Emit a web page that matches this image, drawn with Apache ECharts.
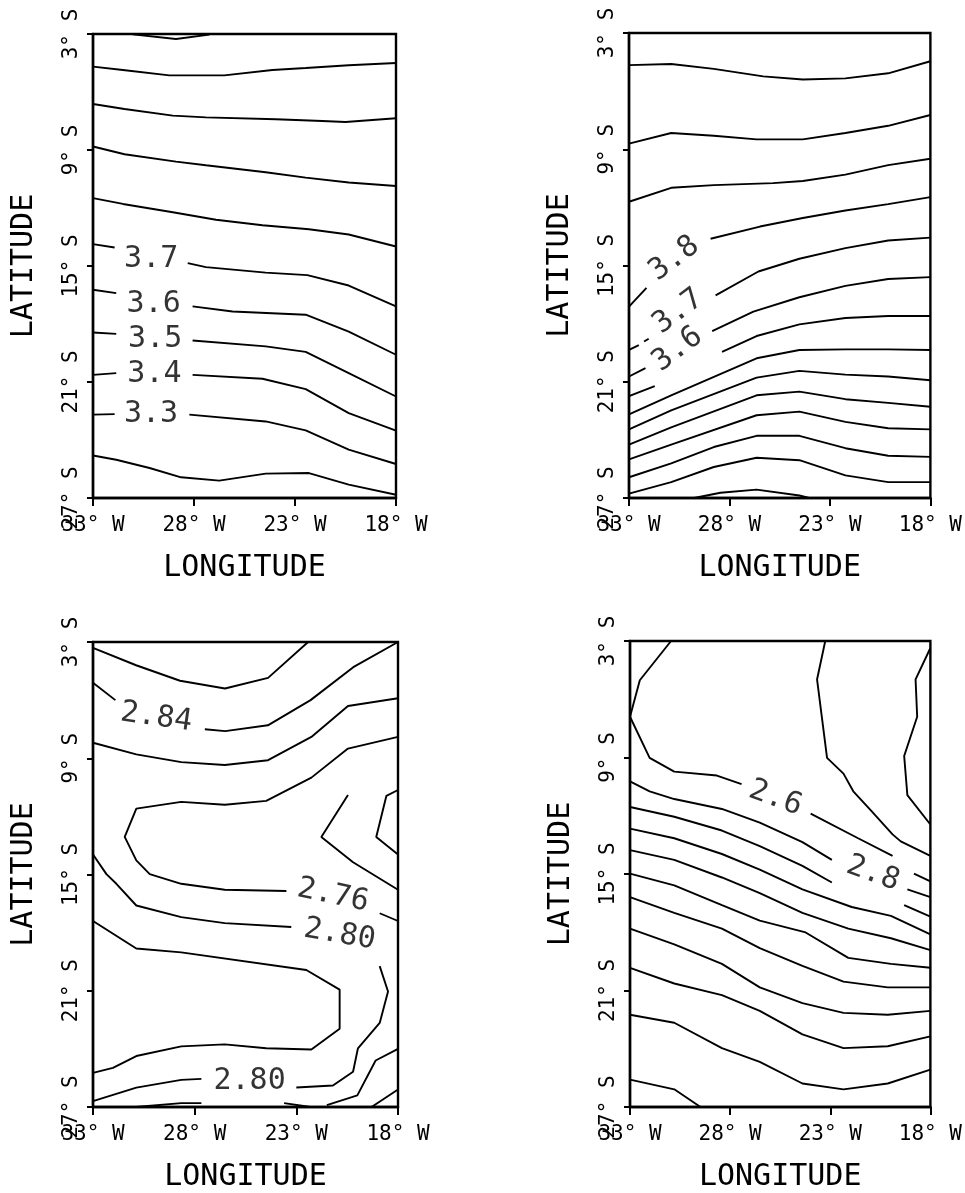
<!DOCTYPE html>
<html><head><meta charset="utf-8">
<script src="https://cdn.jsdelivr.net/npm/echarts@6/dist/echarts.min.js"></script>
<style>html,body{margin:0;padding:0;background:#fff}#c{width:965px;height:1193px}</style>
</head><body><div id="c"></div>
<script>
// ---- axis ticks ----
const lonTicks = [33, 28, 23, 18];
const latTicks = [3, 9, 15, 21, 27];

// ---- panel 1 contours (lon °W, lat °S); each contour = list of segments ----
const p1c1  = [[[31.03,3.02],[28.89,3.26],[27.24,3.03]]];
const p1c2  = [[[33,4.69],[31.52,4.86],[29.22,5.14],[26.50,5.14],[24.12,4.86],[22.47,4.76],[20.34,4.62],[18,4.50]]];
const p1c3  = [[[33,6.62],[31.44,6.88],[29.05,7.22],[27.41,7.31],[23.95,7.41],[21.65,7.50],[20.50,7.55],[18,7.36]]];
const p1c4  = [[[33,8.82],[31.44,9.22],[28.89,9.60],[27.41,9.79],[24.45,10.15],[22.47,10.43],[20.34,10.68],[18,10.86]]];
const p1c5  = [[[33,11.49],[31.52,11.79],[29.05,12.22],[26.91,12.61],[24.61,12.89],[22.31,13.10],[20.34,13.37],[18,13.99]]];
const p1c6  = [[[33,13.87],[31.93,14.04]],[[28.31,14.85],[27.41,15.06],[24.45,15.34],[22.39,15.47],[20.34,16.01],[18,17.09]]];
const p1c7  = [[[33,16.23],[31.85,16.40]],[[28.07,17.09],[26.09,17.35],[22.47,17.52],[20.34,18.39],[18,19.59]]];
const p1c8  = [[[33,18.44],[31.85,18.51]],[[28.07,18.85],[24.45,19.16],[22.47,19.44],[20.34,20.54],[18,21.75]]];
const p1c9  = [[[33,20.63],[31.85,20.54]],[[28.07,20.63],[24.61,20.83],[22.47,21.37],[20.34,22.61],[18,23.52]]];
const p1c10 = [[[33,22.69],[31.93,22.66]],[[28.23,22.69],[24.45,23.04],[22.47,23.50],[20.34,24.50],[18,25.24]]];
const p1c11 = [[[33,24.80],[31.85,25.02],[30.20,25.45],[28.64,25.93],[26.75,26.10],[24.45,25.74],[22.31,25.71],[20.34,26.31],[18,26.83]]];
const p1Labels = [['3.7',30.12,14.65],['3.6',30.0,16.96],['3.5',29.92,18.78],['3.4',29.96,20.61],['3.3',30.13,22.64]];

// ---- panel 2 ----
const p2c1  = [[[33,4.66],[30.90,4.60],[28.78,4.85],[26.32,5.24],[24.35,5.40],[22.23,5.34],[20.10,5.08],[18,4.46]]];
const p2c2  = [[[33,8.71],[30.90,8.16],[28.78,8.30],[26.65,8.49],[24.35,8.49],[22.23,8.16],[20.10,7.79],[18,7.23]]];
const p2c3  = [[[33,11.71],[30.90,10.99],[28.78,10.85],[25.83,10.75],[24.35,10.64],[22.23,10.31],[20.10,9.82],[18,9.49]]];
const p2c4  = [[[33,17.12],[32.13,16.15]],[[28.94,13.62],[26.48,12.99],[24.35,12.55],[22.23,12.16],[20.10,11.83],[18,11.47]]];
const p2c5  = [[[33,19.36],[32.51,19.11]],[[32.25,18.92],[32.02,18.78]],[[28.69,16.54],[26.56,15.31],[24.52,14.65],[22.23,14.10],[20.10,13.71],[18,13.56]]];
const p2c6  = [[[33,20.73],[32.18,20.30]],[[28.86,18.39],[26.81,17.38],[24.52,16.64],[22.23,16.05],[20.10,15.70],[18,15.60]]];
const p2c7  = [[[33,21.74],[31.72,21.22]],[[28.37,19.46],[26.65,18.64],[24.52,18.04],[22.23,17.71],[20.10,17.61],[18,17.61]]];
const p2c8  = [[[33,22.68],[30.90,21.70],[26.65,19.79],[24.52,19.36],[22.23,19.33],[20.10,19.33],[18,19.36]]];
const p2c9  = [[[33,23.46],[30.90,22.48],[26.65,20.79],[24.52,20.44],[22.23,20.63],[20.10,20.73],[18,20.92]]];
const p2c10 = [[[33,24.24],[30.90,23.36],[26.65,21.70],[24.52,21.51],[22.23,21.90],[20.10,22.09],[18,22.29]]];
const p2c11 = [[[33,25.01],[30.90,24.24],[26.65,22.73],[24.52,22.54],[22.23,23.07],[20.10,23.40],[18,23.46]]];
const p2c12 = [[[33,25.93],[30.90,25.21],[28.78,24.37],[26.65,23.79],[24.52,23.79],[22.23,24.43],[20.10,24.82],[18,24.88]]];
const p2c13 = [[[33,26.77],[30.90,26.18],[28.78,25.40],[26.65,24.92],[24.52,25.05],[22.23,25.83],[20.10,26.18],[18,26.18]]];
const p2c14 = [[[29.76,27],[28.45,26.73],[26.65,26.57],[24.52,26.87],[24.03,27]]];
const p2Labels = [['3.8',30.74,14.65],['3.7',30.55,17.38],['3.6',30.58,19.33]];

// ---- panel 3 ----
const p3c1 = [[[33,3.3],[30.88,4.2],[28.72,5.0],[26.51,5.4],[24.39,4.85],[22.42,3]]];
const p3c2 = [[[33,5.1],[31.9,6.0]],[[27.5,7.5],[26.5,7.6],[24.4,7.3],[22.3,6.0],[20.2,4.3],[18,3.0]]];
const p3c3 = [[[33,8.2],[30.87,8.8],[28.66,9.2],[26.52,9.35],[24.39,9.1],[22.26,7.9],[20.46,6.3],[18,5.9]]];
const p3c4 = [[[23.49,15.85],[26.52,15.79],[28.66,15.48],[30.21,14.98],[30.87,14.27],[31.44,13.06],[30.87,11.6],[28.66,11.25],[26.52,11.4],[24.48,11.2],[22.26,10.0],[20.46,8.5],[18,7.9]]];
const p3c5 = [[[18,10.64],[18.57,10.94],[19.07,13.06],[18,13.97]]];
const p3c6 = [[[20.46,10.90],[21.77,13.06],[20.21,14.37],[18,15.79]]];
const p3c7 = [[[18.9,17.0],[18,17.4]]];
const p3c8 = [[[33,13.97],[32.34,14.98],[31.85,15.48],[30.87,16.60],[28.66,17.20],[26.52,17.51],[23.25,17.71]],[[18.90,19.73],[18.49,21.04],[18.90,22.66],[19.97,23.97],[20.21,25.18],[21.20,25.89],[23.0,25.99]],[[27.67,25.55],[28.66,25.6],[30.87,26.0],[33,26.7]]];
const p3c9 = [[[33,17.40],[30.87,18.82],[28.66,19.02],[22.51,19.93],[20.87,20.94],[20.87,22.96],[22.26,24.03],[24.48,23.97],[26.52,23.77],[28.66,23.87],[30.87,24.37],[32.02,24.98],[33,25.24]]];
const p3c10 = [[[23.6,26.8],[22.3,27]]];
const p3c11 = [[[19.3,27],[18,26.1]]];
const p3c12 = [[[18,24.0],[19.1,24.6],[20.0,26.4],[21.5,26.9]]];
const p3c13 = [[[30.9,27],[28.66,26.8],[27.67,26.8]]];
const p3Labels = [['2.84',29.89,6.9],['2.76',21.20,16.09],['2.80',20.87,18.11],['2.80',25.30,25.65]];

// ---- panel 4 ----
const p4c1  = [[[23.25,3.0],[23.66,4.98],[23.16,9.02],[22.34,9.83],[21.85,10.74],[20.95,11.75],[19.89,12.96],[19.48,13.32],[18,14.07]]];
const p4c2  = [[[18,3.36],[18.74,4.98],[18.66,6.90],[19.31,8.92],[19.15,10.94],[18,12.45]]];
const p4c3  = [[[30.95,3],[32.51,5.02],[33,6.9],[32.02,9.02],[30.79,9.73],[28.66,9.93],[27.43,10.37]],[[23.98,11.89],[21.61,13.16],[19.89,14.07]],[[18.82,14.98],[18,15.38]]];
const p4c4  = [[[33,10.23],[32.02,10.74],[30.79,11.14],[28.41,11.65],[26.52,12.35],[24.39,13.36],[22.92,14.27]],[[19.15,15.79],[18,16.19]]];
const p4c5  = [[[33,11.55],[30.79,12.05],[28.41,12.76],[26.52,13.57],[24.39,14.58],[22.92,15.44]],[[19.31,16.60],[18,17.20]]];
const p4c6  = [[[33,12.66],[30.79,13.16],[28.41,13.97],[26.52,14.78],[24.39,15.79],[21.93,16.70],[19.97,17.16],[18,18.11]]];
const p4c7  = [[[33,13.77],[30.79,14.27],[28.41,15.18],[26.52,15.99],[24.39,17.0],[22.10,17.81],[19.97,18.31],[18,18.92]]];
const p4c8  = [[[33,14.98],[30.79,15.59],[28.41,16.60],[26.52,17.40],[24.23,18.01],[22.10,19.32],[19.97,19.63],[18,19.83]]];
const p4c9  = [[[33,16.19],[30.79,17.0],[28.41,17.81],[26.52,18.82],[24.39,19.73],[22.34,20.54],[20.13,20.84],[18,20.84]]];
const p4c10 = [[[33,17.81],[30.79,18.62],[28.41,19.63],[26.52,20.84],[24.39,21.65],[22.34,22.15],[20.13,22.25],[18,22.05]]];
const p4c11 = [[[33,19.83],[30.79,20.64],[28.41,21.24],[26.52,22.05],[24.39,23.26],[22.34,23.97],[20.13,23.87],[18,23.36]]];
const p4c12 = [[[33,22.25],[30.79,22.66],[28.41,23.97],[26.52,24.68],[24.39,25.79],[22.34,26.09],[20.13,25.79],[18,25.08]]];
const p4c13 = [[[33,25.59],[30.79,26.09],[29.48,27]]];
const p4Labels = [['2.6',25.74,11.10],['2.8',20.87,14.98]];

// ---- build ----
const FONT = 'DejaVu Sans Mono';
const panels = [
  {grid:{left:93,top:34,width:303,height:464}, contours:[p1c1,p1c2,p1c3,p1c4,p1c5,p1c6,p1c7,p1c8,p1c9,p1c10,p1c11], labels:p1Labels, rot:[0,0,0,0,0]},
  {grid:{left:629,top:33,width:303,height:465}, contours:[p2c1,p2c2,p2c3,p2c4,p2c5,p2c6,p2c7,p2c8,p2c9,p2c10,p2c11,p2c12,p2c13,p2c14], labels:p2Labels, rot:[37,37,37]},
  {grid:{left:93,top:642,width:305,height:465}, contours:[p3c1,p3c2,p3c3,p3c4,p3c5,p3c6,p3c7,p3c8,p3c9,p3c10,p3c11,p3c12,p3c13], labels:p3Labels, rot:[-8,-12,-10,0]},
  {grid:{left:630,top:641,width:302,height:466}, contours:[p4c1,p4c2,p4c3,p4c4,p4c5,p4c6,p4c7,p4c8,p4c9,p4c10,p4c11,p4c12,p4c13], labels:p4Labels, rot:[-20,-20]}
];

const grid=[], xAxis=[], yAxis=[], series=[];
panels.forEach((p,i)=>{
  grid.push(Object.assign({show:true, borderColor:'#000', borderWidth:2.4, backgroundColor:'transparent'}, p.grid));
  xAxis.push({type:'value', gridIndex:i, min:18, max:33, inverse:true,
    name:'LONGITUDE', nameLocation:'middle', nameGap:55,
    nameTextStyle:{fontFamily:FONT, fontSize:30, color:'#000'},
    axisLine:{show:true, lineStyle:{color:'#000', width:2.4}},
    axisTick:{show:true, length:8, inside:false, lineStyle:{color:'#000', width:2}, customValues:lonTicks},
    axisLabel:{show:true, customValues:lonTicks, formatter:v=>v+'° W', margin:17, fontFamily:FONT, fontSize:21, color:'#000', showMinLabel:true, showMaxLabel:true},
    splitLine:{show:false}});
  yAxis.push({type:'value', gridIndex:i, min:3, max:27, inverse:true,
    name:'LATITUDE', nameLocation:'middle', nameGap:54, nameRotate:90,
    nameTextStyle:{fontFamily:FONT, fontSize:30, color:'#000'},
    axisLine:{show:true, lineStyle:{color:'#000', width:2.4}},
    axisTick:{show:true, length:6, inside:false, lineStyle:{color:'#000', width:2}, customValues:latTicks},
    axisLabel:{show:true, customValues:latTicks, rotate:90, formatter:v=>v+'° S', margin:11, fontFamily:FONT, fontSize:21, color:'#000', showMinLabel:true, showMaxLabel:true},
    splitLine:{show:false}});
  p.contours.forEach(c=>c.forEach(seg=>{
    series.push({type:'line', xAxisIndex:i, yAxisIndex:i, data:seg, showSymbol:false, symbol:'none',
      lineStyle:{color:'#000', width:1.9}, silent:true, animation:false, clip:true});
  }));
  series.push({type:'scatter', xAxisIndex:i, yAxisIndex:i, symbolSize:1, itemStyle:{color:'rgba(0,0,0,0)'},
    animation:false, silent:true,
    data:p.labels.map((l,k)=>({name:l[0], value:[l[1],l[2]],
      label:{show:true, position:'inside', formatter:l[0], rotate:p.rot[k], fontFamily:FONT, fontSize:30, color:'#000', textBorderWidth:0}}))});
});

const chart = echarts.init(document.getElementById('c'), null, {renderer:'canvas'});
chart.setOption({backgroundColor:'#fff', animation:false, grid, xAxis, yAxis, series});
</script>
</body></html>
